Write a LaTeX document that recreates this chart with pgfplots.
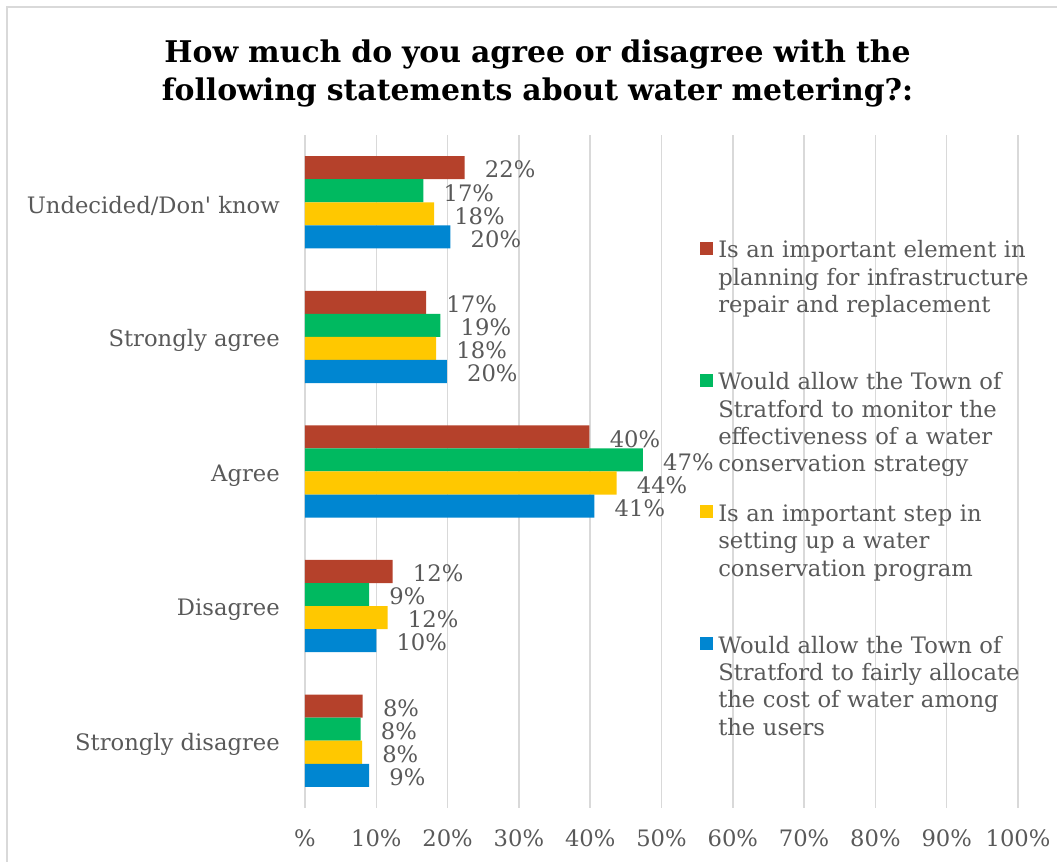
\documentclass[border=0pt]{standalone}
\usepackage{pgfplots}
\pgfplotsset{compat=1.18}
\usepackage{pgfplotstable}
\usepackage{fontspec}
\setmainfont{DejaVu Serif}
\definecolor{cred}{HTML}{B5412B}
\definecolor{cgreen}{HTML}{00B960}
\definecolor{cyellow}{HTML}{FFC800}
\definecolor{cblue}{HTML}{0086D1}
\definecolor{txtgray}{HTML}{595959}
\definecolor{gridgray}{HTML}{D9D9D9}

\pgfplotstableread{
y red green yellow blue
0 8.1 7.8 8.0 9.0
1 12.3 9.0 11.6 10.0
2 39.9 47.4 43.7 40.6
3 17.0 19.0 18.4 19.9
4 22.4 16.6 18.1 20.4
}\data

\begin{document}
\begin{tikzpicture}
\useasboundingbox (-228.75pt,-40.5pt) rectangle (564pt,606pt);
\draw[gridgray, line width=1.2pt] (-223.5pt,-60pt) -- (-223.5pt,600.75pt) -- (580pt,600.75pt);
\begin{axis}[
  at={(0,0)}, anchor=south west,
  scale only axis,
  width=534.75pt, height=504.75pt,
  xbar, bar width=17.3pt,
  xmin=0, xmax=100, ymin=-0.5, ymax=4.5,
  xtick={0,10,...,100},
  xticklabels={\%,10\%,20\%,30\%,40\%,50\%,60\%,70\%,80\%,90\%,100\%},
  ytick={0,1,2,3,4},
  yticklabels={Strongly disagree,Disagree,Agree,Strongly agree,Undecided/Don\textquotesingle{} know},
  xmajorgrids, ymajorgrids=false,
  grid style={gridgray, line width=1.1pt},
  axis line style={draw=none},
  major tick length=0pt,
  ticklabel style={font=\fontsize{17}{20}\selectfont, text=txtgray},
  xticklabel style={inner sep=0pt, yshift=-15.75pt},
  yticklabel style={inner sep=0pt, xshift=-18.75pt, yshift=-3pt},
  point meta=x,
  nodes near coords={\pgfmathprintnumber[fixed,precision=0,assume math mode=true]{\pgfplotspointmeta}\%},
  nodes near coords style={anchor=west, inner sep=0pt, xshift=15pt, yshift=-1.5pt,
     font=\fontsize{17}{20}\selectfont, text=txtgray},
  legend image code/.code={\fill[#1] (0pt,37.64pt) rectangle (9.75pt,47.39pt);},
  legend style={draw=none, fill=none, inner sep=0pt, row sep=0pt,
     at={(0.554,0.8454)}, anchor=north west,
     /tikz/every odd column/.append style={column sep=3.75pt},
     nodes={text width=250pt, align=left, inner sep=0pt, text height=14pt, text depth=84.775pt,
            font=\fontsize{17}{20.5}\selectfont, text=txtgray}},
  legend cell align=left,
]
\addplot[fill=cred, draw=none, bar shift=25.95pt] table[x=red, y=y] {\data};
\addlegendentry{Is an important element in\\planning for infrastructure\\repair and replacement}
\addplot[fill=cgreen, draw=none, bar shift=8.65pt] table[x=green, y=y] {\data};
\addlegendentry{Would allow the Town of\\Stratford to monitor the\\effectiveness of a water\\conservation strategy}
\addplot[fill=cyellow, draw=none, bar shift=-8.65pt] table[x=yellow, y=y] {\data};
\addlegendentry{Is an important step in\\setting up a water\\conservation program}
\addplot[fill=cblue, draw=none, bar shift=-25.95pt] table[x=blue, y=y] {\data};
\addlegendentry{Would allow the Town of\\Stratford to fairly allocate\\the cost of water among\\the users}
\end{axis}
\node[anchor=base, text width=700pt, align=center, inner sep=0pt,
      font=\fontsize{22.4}{28.5}\selectfont\bfseries] at (174.4pt,558.75pt)
  {How much do you agree or disagree with the\\following statements about water metering?:};
\end{tikzpicture}
\end{document}
